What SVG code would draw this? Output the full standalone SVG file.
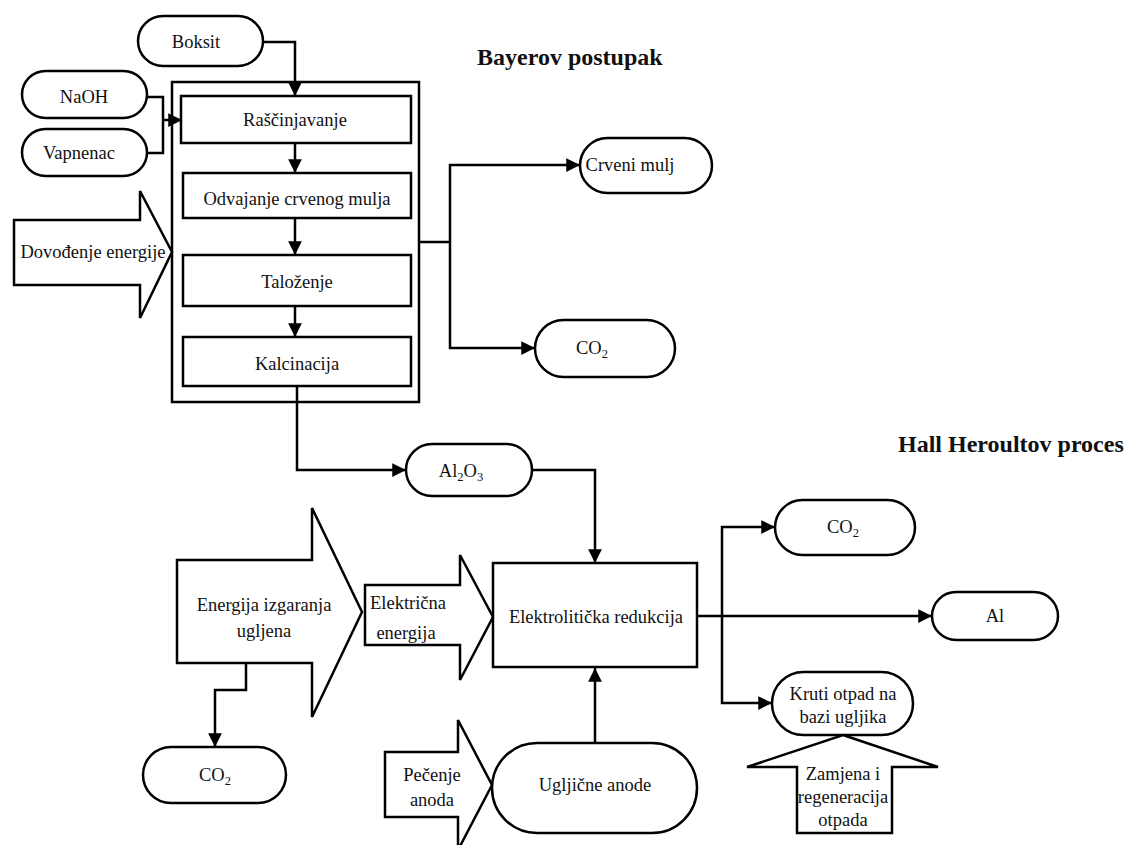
<svg xmlns="http://www.w3.org/2000/svg" width="1128" height="845" viewBox="0 0 1128 845">
<defs>
<marker id="ah" viewBox="0 0 10 10" refX="10" refY="5" markerWidth="5.5" markerHeight="5.5" orient="auto" markerUnits="strokeWidth">
<path d="M0,0 L10,5 L0,10 Z" fill="#000"/>
</marker>
<style>
.s{fill:#fff;stroke:#000;stroke-width:2.5}
.c{fill:none;stroke:#000;stroke-width:2.5;marker-end:url(#ah)}
.l{fill:none;stroke:#000;stroke-width:2.5}
text{font-family:"Liberation Serif","Times New Roman",serif;font-size:18.5px;fill:#111;text-anchor:middle}
.t{font-weight:bold;font-size:24px;text-anchor:start}
.sub{font-size:12.5px}
</style>
</defs>
<rect width="1128" height="845" fill="#fff"/>
<text class="t" x="477" y="65">Bayerov postupak</text>
<text class="t" x="898" y="452">Hall Heroultov proces</text>

<g id="bayer-box"><rect class="s" x="172" y="82" width="247" height="320"/></g>

<g id="connectors">
<polyline class="c" points="263,42 295,42 295,96"/>
<polyline class="l" points="147,97 163,97 163,153 147,153"/>
<line class="c" x1="163" y1="120" x2="182" y2="120"/>
<line class="c" x1="295" y1="143" x2="295" y2="173"/>
<line class="c" x1="295" y1="218" x2="295" y2="255"/>
<line class="c" x1="295" y1="306" x2="295" y2="337"/>
<polyline class="l" points="419,242 450,242"/>
<polyline class="c" points="450,242 450,165 580,165"/>
<polyline class="c" points="450,242 450,348 535,348"/>
<polyline class="c" points="297,386 297,470 406,470"/>
<polyline class="c" points="532,470 595,470 595,563"/>
<line class="c" x1="595" y1="743" x2="595" y2="668"/>
<polyline class="c" points="246,663 246,690 215,690 215,747"/>
<line class="c" x1="697" y1="616" x2="932" y2="616"/>
<polyline class="c" points="722,616 722,527 775,527"/>
<polyline class="c" points="722,616 722,703 772,703"/>
</g>

<g id="boksit"><rect class="s" x="138" y="16" width="125" height="50" rx="25"/><text x="196" y="48">Boksit</text></g>
<g id="naoh"><rect class="s" x="22" y="71" width="125" height="47" rx="23.5"/><text x="84" y="103">NaOH</text></g>
<g id="vapnenac"><rect class="s" x="22" y="129" width="125" height="47" rx="23.5"/><text x="79" y="159">Vapnenac</text></g>

<g id="rascinjavanje"><rect class="s" x="181" y="96" width="230" height="47"/><text x="295" y="126">Raščinjavanje</text></g>
<g id="odvajanje"><rect class="s" x="183" y="173" width="228" height="45"/><text x="297" y="205">Odvajanje crvenog mulja</text></g>
<g id="talozenje"><rect class="s" x="183" y="255" width="228" height="51"/><text x="297" y="288">Taloženje</text></g>
<g id="kalcinacija"><rect class="s" x="183" y="337" width="228" height="49"/><text x="297" y="370">Kalcinacija</text></g>

<g id="dovodjenje"><polygon class="s" points="14,220 140,220 140,191 172,252 140,318 140,285 14,285"/><text x="93" y="258">Dovođenje energije</text></g>

<g id="crveni-mulj"><rect class="s" x="580" y="138" width="132" height="55" rx="27.5"/><text x="630" y="171">Crveni mulj</text></g>
<g id="co2-bayer"><rect class="s" x="535" y="320" width="140" height="57" rx="28.5"/><text x="592" y="354">CO<tspan class="sub" dy="4">2</tspan></text></g>

<g id="al2o3"><rect class="s" x="406" y="444" width="126" height="52" rx="26"/><text x="461" y="477">Al<tspan class="sub" dy="4">2</tspan><tspan dy="-4">O</tspan><tspan class="sub" dy="4">3</tspan></text></g>

<g id="energija-izgaranja"><polygon class="s" points="177,560 312,560 312,508 362,612 312,717 312,663 177,663"/><text x="264" y="611">Energija izgaranja</text><text x="264" y="637">ugljena</text></g>
<g id="elektricna"><polygon class="s" points="365,585 460,585 460,555 493,617 460,680 460,645 365,645"/><text x="408" y="609">Električna</text><text x="406" y="639">energija</text></g>

<g id="elektroliticka"><rect class="s" x="493" y="563" width="204" height="104"/><text x="596" y="623">Elektrolitička redukcija</text></g>

<g id="co2-left"><rect class="s" x="143" y="747" width="143" height="56" rx="28"/><text x="215" y="781">CO<tspan class="sub" dy="4">2</tspan></text></g>

<g id="pecenje"><polygon class="s" points="385,752 458,752 458,720 492,785 458,850 458,817 385,817"/><text x="432" y="781">Pečenje</text><text x="432" y="806">anoda</text></g>
<g id="uglicne-anode"><rect class="s" x="492" y="743" width="205" height="90" rx="45"/><text x="595" y="791">Ugljične anode</text></g>

<g id="co2-right"><rect class="s" x="775" y="500" width="140" height="55" rx="27.5"/><text x="843" y="533">CO<tspan class="sub" dy="4">2</tspan></text></g>
<g id="al"><rect class="s" x="932" y="592" width="126" height="48" rx="24"/><text x="995" y="622">Al</text></g>
<g id="kruti-otpad"><rect class="s" x="772" y="672" width="141" height="63" rx="31.5"/><text x="843" y="700">Kruti otpad na</text><text x="843" y="723">bazi ugljika</text></g>

<g id="zamjena"><polygon class="s" points="843,735 938,767 892,767 892,833 797,833 797,767 747,767"/><text x="843" y="780">Zamjena i</text><text x="843" y="803">regeneracija</text><text x="843" y="826">otpada</text></g>
</svg>
